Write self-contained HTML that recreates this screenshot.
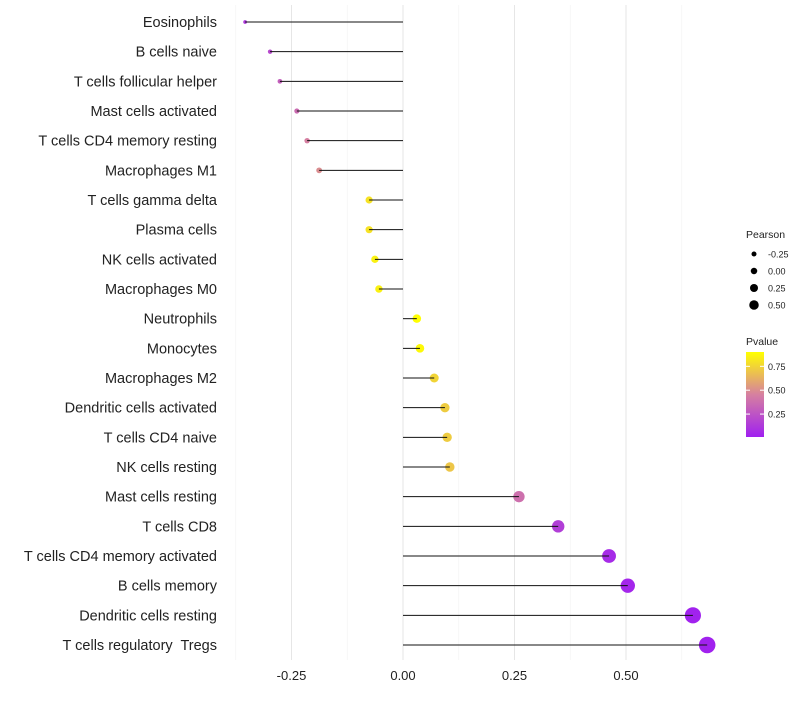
<!DOCTYPE html>
<html><head><meta charset="utf-8"><style>
body{margin:0;background:#fff;font-family:"Liberation Sans",sans-serif}
text{white-space:pre}
</style></head><body>
<svg id="c" width="800" height="700"></svg>
<script>
const categories=["Eosinophils","B cells naive","T cells follicular helper","Mast cells activated","T cells CD4 memory resting","Macrophages M1","T cells gamma delta","Plasma cells","NK cells activated","Macrophages M0","Neutrophils","Monocytes","Macrophages M2","Dendritic cells activated","T cells CD4 naive","NK cells resting","Mast cells resting","T cells CD8","T cells CD4 memory activated","B cells memory","Dendritic cells resting","T cells regulatory  Tregs"];
const pearson=[-0.354,-0.298,-0.276,-0.238,-0.215,-0.188,-0.076,-0.076,-0.063,-0.054,0.031,0.038,0.070,0.094,0.099,0.105,0.260,0.348,0.462,0.504,0.650,0.682];
const pvalues=[0.12,0.2,0.3,0.36,0.45,0.5,0.8,0.8,0.85,0.85,0.9,0.88,0.75,0.72,0.72,0.7,0.38,0.15,0.06,0.04,0.02,0.02];
const xTicks=[-0.25,0,0.25,0.5];
const xTickLabels=["-0.25","0.00","0.25","0.50"];
const sizeLegend=[-0.25,0,0.25,0.5];
const pLegend=[0.75,0.5,0.25];
const NS="http://www.w3.org/2000/svg",svg=document.getElementById('c');
function mk(t,a,p){const e=document.createElementNS(NS,t);for(const k in a)e.setAttribute(k,a[k]);(p||svg).appendChild(e);return e;}
const X=v=>403+v*446, Y=i=>22+i*29.667;
const R=v=>Math.max(1,2.2+6.2*(v+0.3)/1.0);
function col(p){const t=Math.max(0,Math.min(1,(p-0.01)/0.89));
 const s=[[160,32,240],[214,128,160],[255,255,0]];let a,b,u;
 if(t<0.5){a=s[0];b=s[1];u=t/0.5}else{a=s[1];b=s[2];u=(t-0.5)/0.5}
 return `rgb(${a.map((c,k)=>Math.round(c+(b[k]-c)*u)).join(',')})`;}
[-0.375,-0.25,-0.125,0,0.125,0.25,0.375,0.5,0.625].forEach(v=>{const l=mk('line',{x1:X(v),x2:X(v),y1:5,y2:660,stroke:v*8%2?'#f3f3f3':'#e6e6e6','stroke-width':v*8%2?0.6:1});
});
xTicks.forEach((v,i)=>{const t=mk('text',{x:X(v),y:680,'text-anchor':'middle','font-size':13,fill:'#222'});t.textContent=xTickLabels[i];
});
categories.forEach((c,i)=>{const y=Y(i);
 const t=mk('text',{x:217,y:y+5,'text-anchor':'end','font-size':14.5,fill:'#222'});t.textContent=c;
 
 const d=mk('circle',{cx:X(pearson[i]),cy:y,r:R(pearson[i]),fill:col(pvalues[i])});
 
 const l=mk('line',{x1:X(0),x2:X(pearson[i]),y1:y,y2:y,stroke:'#111','stroke-width':1});
 
});
let t=mk('text',{x:746,y:238,'font-size':10.5,fill:'#222'});t.textContent='Pearson';

sizeLegend.forEach((v,i)=>{const y=254+i*17;
 const c=mk('circle',{cx:754,cy:y,r:2.5+i*0.75,fill:'#000'});
 const s=mk('text',{x:768,y:y+3.5,'font-size':9,fill:'#222'});s.textContent=sizeLegend[i].toFixed(2);
 });
t=mk('text',{x:746,y:345,'font-size':10.5,fill:'#222'});t.textContent='Pvalue';

const defs=mk('defs',{});const g=mk('linearGradient',{id:'pg',x1:0,y1:1,x2:0,y2:0},defs);
[0,0.25,0.5,0.75,1].forEach(o=>mk('stop',{offset:o,'stop-color':col(0.01+o*0.89)},g));
const bar=mk('rect',{x:746,y:352,width:18,height:85,fill:'url(#pg)'});
pLegend.forEach(p=>{const y=437-(p-0.01)/0.89*85;
 mk('line',{x1:746,x2:750,y1:y,y2:y,stroke:'#fff'});mk('line',{x1:760,x2:764,y1:y,y2:y,stroke:'#fff'});
 const s=mk('text',{x:768,y:y+3.5,'font-size':9,fill:'#222'});s.textContent=p.toFixed(2);
 });
</script></body></html>
